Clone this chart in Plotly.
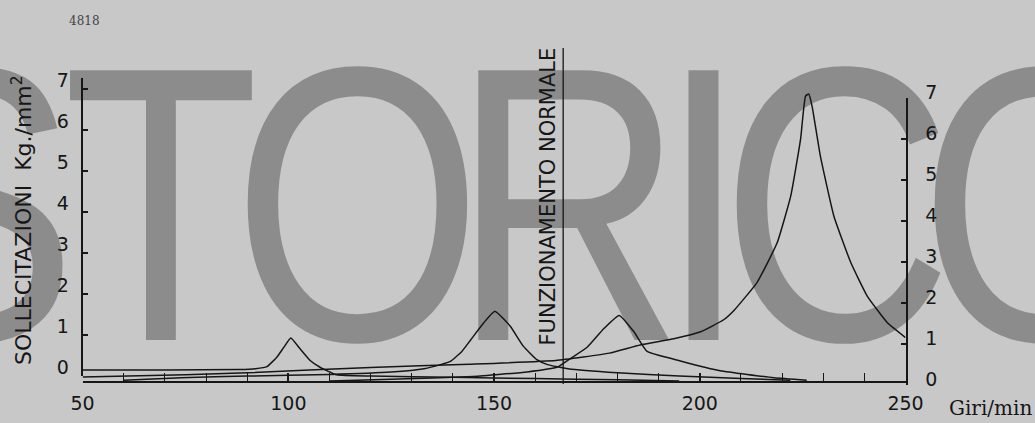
import plotly.graph_objects as go

W, H = 1035, 423

# ---------------- data ----------------
X_TICKS = [50, 100, 150, 200, 250]
Y_TICKS = [0, 1, 2, 3, 4, 5, 6, 7]

A_rpm = [50, 70, 88, 92, 94.8, 97.2, 98.9, 100.6, 102.9, 105.3, 107.8, 111.8, 120, 140, 160, 180, 195]
A_val = [0.27, 0.27, 0.28, 0.30, 0.35, 0.58, 0.82, 1.05, 0.78, 0.50, 0.33, 0.15, 0.12, 0.09, 0.06, 0.03, 0.0]

B_rpm = [60, 74, 90, 110, 125, 133, 137, 139.4, 142, 144.3, 147.5, 150.2, 153.9, 157.1, 160.4, 163, 168, 180, 195, 210, 222]
B_val = [0.02, 0.08, 0.12, 0.16, 0.22, 0.30, 0.40, 0.48, 0.70, 1.00, 1.42, 1.70, 1.34, 0.85, 0.52, 0.40, 0.30, 0.20, 0.12, 0.06, 0.02]

C_rpm = [110, 125, 145, 158, 165.4, 168.6, 172.7, 176.7, 180.4, 184, 187.2, 195.3, 205, 218, 226]
C_val = [0.0, 0.04, 0.11, 0.22, 0.34, 0.55, 0.83, 1.28, 1.60, 1.20, 0.72, 0.49, 0.25, 0.08, 0.02]

D_rpm = [50, 75, 90, 120, 144, 165, 178, 185.5, 193.7, 200.2, 205.9, 208.3, 213.9, 218.8, 222.1, 224.5,
         225.7, 226.5, 227.3, 229.3, 232.6, 236.7, 240.7, 245.6, 250]
D_val = [0.10, 0.15, 0.20, 0.33, 0.41, 0.50, 0.68, 0.88, 1.03, 1.20, 1.50, 1.72, 2.40, 3.37, 4.51, 5.90,
         6.95, 7.00, 6.70, 5.49, 4.02, 2.89, 2.07, 1.42, 1.06]

NORMAL_RPM = 166.8

WATERMARK = "STORICO"

# ---------------- styling ----------------
BG = "#c8c8c8"
INK = "#161616"
WM = "#8c8c8c"
SANS = "DejaVu Sans, Liberation Sans, Arial"
SERIF = "DejaVu Serif, Liberation Serif, serif"


def fx(px):
    return px / W


def fy(py):
    return 1 - py / H


UNIT = 41.0  # pixels per Kg/mm2

fig = go.Figure()

# watermark, drawn first so the curves sit above it (pixel-space helper axes)
WM_CX = [-30, 161, 357.5, 568, 703.5, 836.5, 1044.5]
fig.add_trace(go.Scatter(
    x=WM_CX, y=[242] * len(WATERMARK), mode="text", text=list(WATERMARK),
    textposition="middle center", cliponaxis=True, hoverinfo="skip",
    textfont=dict(family="Liberation Sans, Arial", size=392, color=WM),
    xaxis="x", yaxis="y", showlegend=False))

for xs, ys in [(A_rpm, A_val), (B_rpm, B_val), (C_rpm, C_val), (D_rpm, D_val)]:
    fig.add_trace(go.Scatter(x=xs, y=ys, mode="lines",
                             line=dict(color=INK, width=1.5, shape="spline", smoothing=0.4),
                             xaxis="x2", yaxis="y2", showlegend=False, hoverinfo="skip"))

# dummy traces so the left/right scales are drawn
fig.add_trace(go.Scatter(x=[None], y=[None], xaxis="x2", yaxis="y3", showlegend=False))
fig.add_trace(go.Scatter(x=[None], y=[None], xaxis="x2", yaxis="y4", showlegend=False))

tickfont = dict(family=SANS, size=19, color=INK)

yaxis_common = dict(
    tickmode="array", tickvals=Y_TICKS, ticktext=[str(v) for v in Y_TICKS],
    showline=True, linecolor=INK, linewidth=2, ticks="inside", ticklen=5, tickwidth=1.5,
    tickcolor=INK, showgrid=False, zeroline=False, tickfont=tickfont, fixedrange=True,
    automargin=False,
)

fig.update_layout(
    template="none",
    width=W, height=H, margin=dict(l=0, r=0, t=0, b=0, pad=0), autosize=False,
    paper_bgcolor=BG, plot_bgcolor="rgba(0,0,0,0)", showlegend=False,
    xaxis=dict(domain=[0, 1], range=[0, W], visible=False, fixedrange=True, automargin=False),
    yaxis=dict(domain=[0, 1], range=[H, 0], visible=False, fixedrange=True, automargin=False),
    xaxis2=dict(
        domain=[fx(82.6), fx(905.5)], range=[50, 250], anchor="y2",
        showline=True, linecolor=INK, linewidth=2, showgrid=False, zeroline=False,
        tickmode="array", tickvals=X_TICKS, ticktext=[str(v) for v in X_TICKS],
        ticks="inside", ticklen=8, tickwidth=1.5, tickcolor=INK,
        minor=dict(tickmode="linear", tick0=50, dtick=10, ticks="inside", ticklen=8,
                   tickwidth=1.2, tickcolor=INK, showgrid=False),
        tickfont=tickfont, ticklabelstandoff=4, fixedrange=True, automargin=False,
    ),
    yaxis2=dict(domain=[fy(381), fy(381 - 7.2 * UNIT)], range=[0, 7.2], anchor="x2",
                visible=False, fixedrange=True, automargin=False),
    yaxis3=dict(domain=[fy(375.5), fy(375.5 - 7.25 * UNIT)], range=[0, 7.25], anchor="x2",
                side="left", ticklabelshift=-8, ticklabelstandoff=8, **yaxis_common),
    yaxis4=dict(domain=[fy(385), fy(385 - 7 * UNIT)], range=[0, 7], anchor="x2",
                side="right", ticklabelshift=-6, ticklabelstandoff=14, **yaxis_common),
)

fig.add_shape(type="line", xref="x2", yref="paper", x0=NORMAL_RPM, x1=NORMAL_RPM,
              y0=fy(384), y1=fy(48), line=dict(color=INK, width=1.3))

fig.add_annotation(text="SOLLECITAZIONI\u00a0 Kg./mm<sup>2</sup>", textangle=-90,
                   xref="paper", yref="paper", x=fx(22), y=fy(220), showarrow=False,
                   xanchor="center", yanchor="middle",
                   font=dict(family=SANS, size=22, color=INK))
fig.add_annotation(text="FUNZIONAMENTO NORMALE", textangle=-90,
                   xref="paper", yref="paper", x=fx(547), y=fy(196.5), showarrow=False,
                   xanchor="center", yanchor="middle",
                   font=dict(family=SANS, size=21, color=INK))
fig.add_annotation(text="Giri/min", xref="paper", yref="paper", x=fx(947), y=fy(408),
                   xanchor="left", yanchor="middle", showarrow=False,
                   font=dict(family=SERIF, size=20, color=INK))
fig.add_annotation(text="4818", xref="paper", yref="paper", x=fx(84), y=fy(21),
                   xanchor="center", yanchor="middle", showarrow=False,
                   font=dict(family=SERIF, size=12, color="#444444"))

# page chrome: no body margin; the watermark letters are horizontally condensed
POST = """
document.documentElement.style.margin='0';
document.body.style.margin='0';
document.body.style.overflow='hidden';
document.body.style.background='%s';
var st = document.createElement('style');
st.textContent = '.textpoint text{transform-box:fill-box;transform-origin:center;transform:scaleX(0.82);}';
document.head.appendChild(st);
""" % BG

fig.write_html("out.html", post_script=POST, config={"responsive": False, "displayModeBar": False})
